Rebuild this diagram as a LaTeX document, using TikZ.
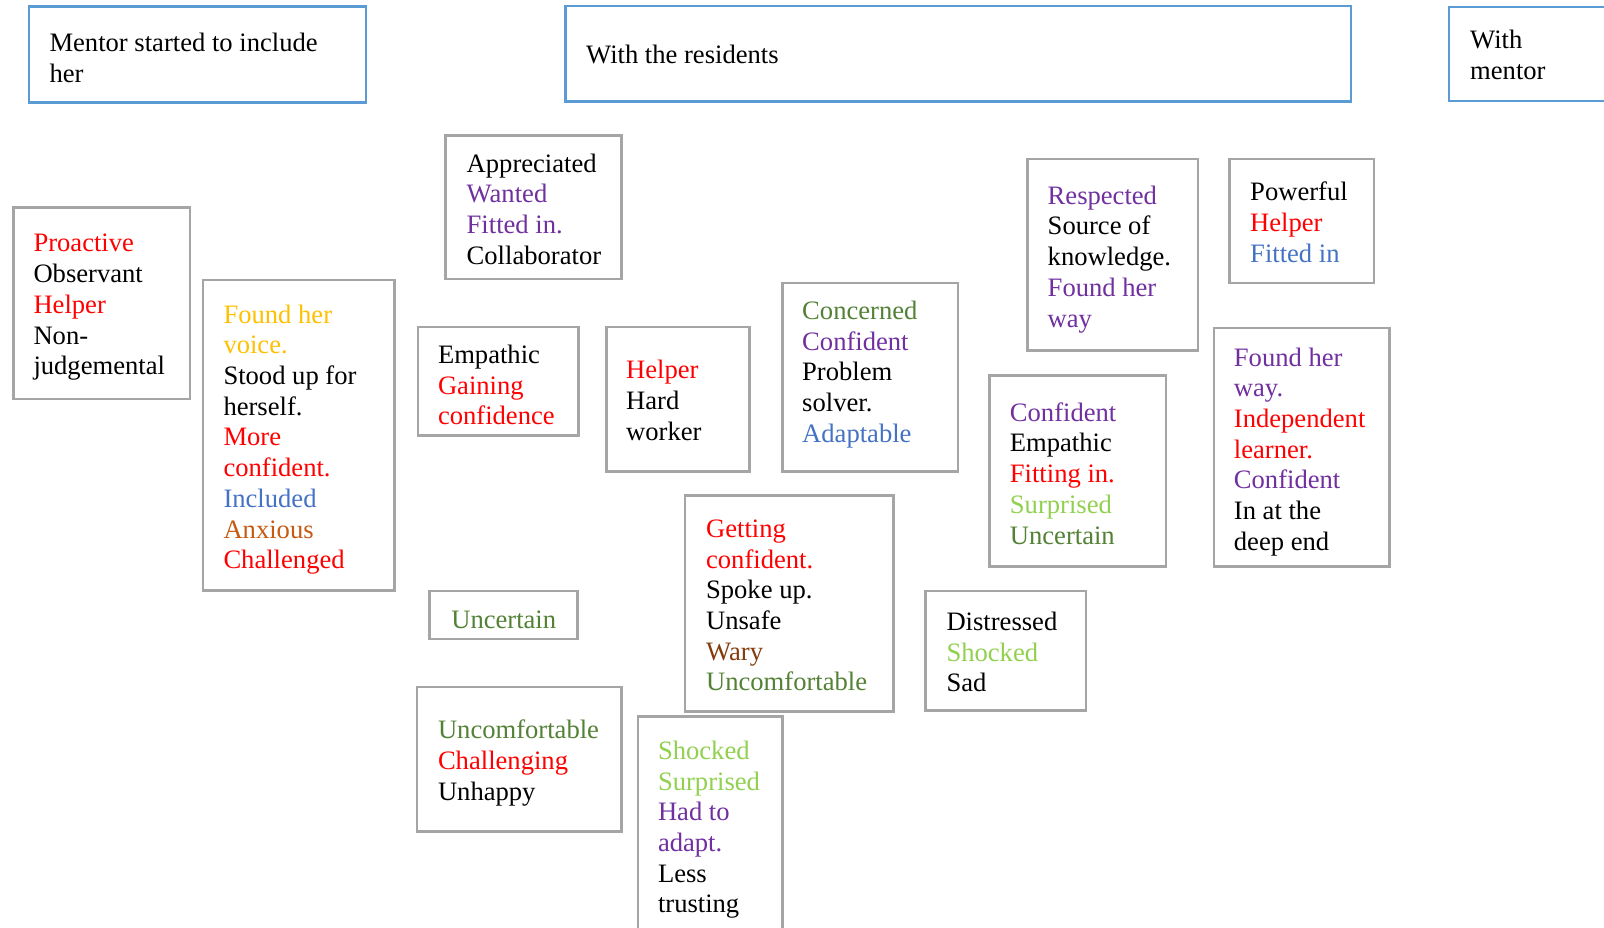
\documentclass[tikz,border=0pt]{standalone}
\usepackage{fontspec}
\setmainfont{Liberation Serif}
\usepackage{xcolor}
\definecolor{cRed}{HTML}{FF0000}
\definecolor{cPurple}{HTML}{7030A0}
\definecolor{cGold}{HTML}{FFC000}
\definecolor{cBlue}{HTML}{4472C4}
\definecolor{cOrange}{HTML}{C55A11}
\definecolor{cDkGreen}{HTML}{538135}
\definecolor{cLtGreen}{HTML}{92D050}
\definecolor{cBrown}{HTML}{843C0C}
\definecolor{frameBlue}{HTML}{5B9BD5}
\definecolor{frameGray}{HTML}{A5A5A5}

\newcommand\cl[2]{\textcolor{#1}{#2}}

% box from (x1,y1) to (x2,y2); text starts at x = xt with first baseline at y = yb
% #1 name, #2 style, #3 x1, #4 y1, #5 x2, #6 y2, #7 xt, #8 yb, #9 text
\newcommand\textbox[9]{%
  \node[#2, anchor=north west, minimum width={(#5-#3)*1pt}, minimum height={(#6-#4)*1pt}]
    (#1) at (#3-0.8,#4-0.8) {};
  \node[txt, anchor=north west] (#1-t) at (#7,#8-19.7) {\strut #9};
}

\tikzset{
  bluebox/.style={draw=frameBlue, line width=2.7pt, rectangle, inner sep=0pt, fill=none},
  graybox/.style={draw=frameGray, line width=2.7pt, rectangle, inner sep=0pt, fill=none},
  txt/.style={inner sep=0pt, align=left, font=\fontsize{26.6}{30.7}\selectfont},
}

\begin{document}
\begin{tikzpicture}[x=1pt, y=-1pt]
\useasboundingbox[fill=white] (0,0) rectangle (1604,928);
\clip (0,0) rectangle (1604,928);

% headings
\textbox{head1}{bluebox}{28.5}{6}{365.5}{102}{49.3}{49.5}{Mentor started to include\\her}
\textbox{head2}{bluebox}{564.7}{5.5}{1350.4}{101}{586}{62}{With the residents}
\textbox{head3}{bluebox}{1448.3}{6.5}{1640}{100.5}{1470}{47}{With\\mentor}

% characteristic boxes
\textbox{proactive}{graybox}{12.7}{206.7}{189.3}{398.3}{33.3}{250}%
  {\cl{cRed}{Proactive}\\Observant\\\cl{cRed}{Helper}\\Non-\\judgemental}
\textbox{voice}{graybox}{202.5}{279.3}{393.8}{590}{223.3}{321.2}%
  {\cl{cGold}{Found her}\\\cl{cGold}{voice.}\\Stood up for\\herself.\\\cl{cRed}{More}\\\cl{cRed}{confident.}\\\cl{cBlue}{Included}\\\cl{cOrange}{Anxious}\\\cl{cRed}{Challenged}}
\textbox{appreciated}{graybox}{445}{135}{621}{278.5}{466.5}{170.2}%
  {Appreciated\\\cl{cPurple}{Wanted}\\\cl{cPurple}{Fitted in.}\\Collaborator}
\textbox{empathic}{graybox}{417.4}{326.5}{578}{434.8}{437.8}{361.5}%
  {Empathic\\\cl{cRed}{Gaining}\\\cl{cRed}{confidence}}
\textbox{hardworker}{graybox}{605.6}{326.5}{748.8}{470.6}{626}{376.8}%
  {\cl{cRed}{Helper}\\Hard\\worker}
\textbox{concerned}{graybox}{781.6}{282.3}{957.5}{470.6}{802}{317.5}%
  {\cl{cDkGreen}{Concerned}\\\cl{cPurple}{Confident}\\Problem\\solver.\\\cl{cBlue}{Adaptable}}
\textbox{respected}{graybox}{1027}{158.4}{1197.5}{350}{1047.5}{202.3}%
  {\cl{cPurple}{Respected}\\Source of\\knowledge.\\\cl{cPurple}{Found her}\\\cl{cPurple}{way}}
\textbox{powerful}{graybox}{1229}{158.4}{1373.5}{282.5}{1250}{199}%
  {Powerful\\\cl{cRed}{Helper}\\\cl{cBlue}{Fitted in}}
\textbox{fitting}{graybox}{989.2}{375.2}{1165.5}{566.2}{1009.7}{419.3}%
  {\cl{cPurple}{Confident}\\Empathic\\\cl{cRed}{Fitting in.}\\\cl{cLtGreen}{Surprised}\\\cl{cDkGreen}{Uncertain}}
\textbox{independent}{graybox}{1213.3}{327.3}{1389.2}{566.2}{1233.7}{364.2}%
  {\cl{cPurple}{Found her}\\\cl{cPurple}{way.}\\\cl{cRed}{Independent}\\\cl{cRed}{learner.}\\\cl{cPurple}{Confident}\\In at the\\deep end}
\textbox{spokeup}{graybox}{684.4}{495.1}{893.1}{711}{705.9}{535.4}%
  {\cl{cRed}{Getting}\\\cl{cRed}{confident.}\\Spoke up.\\Unsafe\\\cl{cBrown}{Wary}\\\cl{cDkGreen}{Uncomfortable}}
\textbox{distressed}{graybox}{924.8}{590.3}{1085.4}{710}{946.3}{628.5}%
  {Distressed\\\cl{cLtGreen}{Shocked}\\Sad}
\textbox{uncertain}{graybox}{428.6}{590.3}{577}{638.4}{451.1}{626.5}%
  {\cl{cDkGreen}{Uncertain}}
\textbox{unhappy}{graybox}{416.4}{686.4}{621}{830.7}{437.8}{736.9}%
  {\cl{cDkGreen}{Uncomfortable}\\\cl{cRed}{Challenging}\\Unhappy}
\textbox{trusting}{graybox}{637.3}{716.1}{781.6}{960}{657.8}{757.4}%
  {\cl{cLtGreen}{Shocked}\\\cl{cLtGreen}{Surprised}\\\cl{cPurple}{Had to}\\\cl{cPurple}{adapt.}\\Less\\trusting}
\end{tikzpicture}
\end{document}
